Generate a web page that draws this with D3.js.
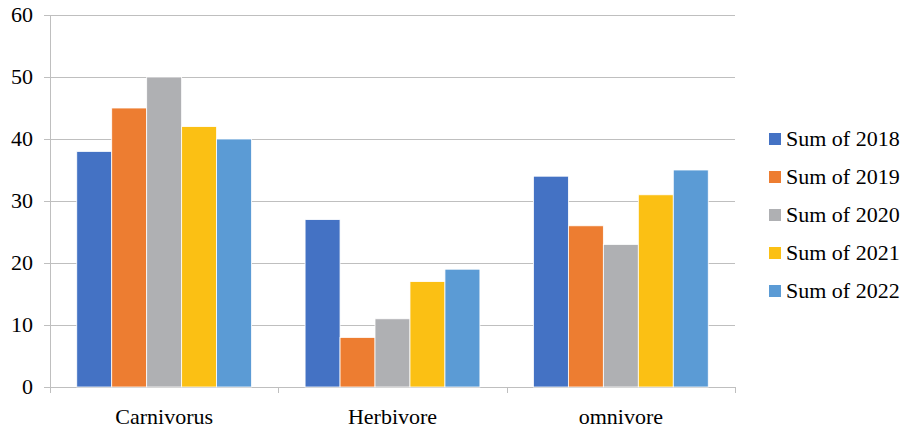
<!DOCTYPE html>
<html>
<head>
<meta charset="utf-8">
<script src="https://cdn.jsdelivr.net/npm/d3@7"></script>
<style>
  html, body { margin: 0; padding: 0; background: #fff; }
  svg { display: block; font-family: "Liberation Serif", "Times New Roman", serif; }
</style>
</head>
<body>
<svg id="chart" width="902" height="429"></svg>
<script>
// Diet categories and yearly sums
const categories = ["Carnivorus", "Herbivore", "omnivore"];
const seriesNames = ["Sum of 2018", "Sum of 2019", "Sum of 2020", "Sum of 2021", "Sum of 2022"];
const sum2018 = [38, 27, 34];
const sum2019 = [45, 8, 26];
const sum2020 = [50, 11, 23];
const sum2021 = [42, 17, 31];
const sum2022 = [40, 19, 35];
const yTicks = [0, 10, 20, 30, 40, 50, 60];
const colors = ["#4472C4", "#ED7D31", "#AFB0B3", "#FBC014", "#5B9BD5"];

const seriesValues = [sum2018, sum2019, sum2020, sum2021, sum2022];

const svg = d3.select("#chart");
const plot = { left: 50, right: 735, top: 15, bottom: 387 };

const x0 = d3.scaleBand().domain(categories).range([plot.left, plot.right]).paddingInner(0).paddingOuter(0);
const x1 = d3.scaleBand().domain(seriesNames).range([0, x0.bandwidth()]).paddingOuter(0.765).paddingInner(0);
const y = d3.scaleLinear().domain([0, 60]).range([plot.bottom, plot.top]);

// Horizontal gridlines with short outer ticks
svg.append("g")
  .selectAll("line")
  .data(yTicks)
  .join("line")
  .attr("x1", plot.left - 6)
  .attr("x2", plot.right)
  .attr("y1", d => y(d) + 0.5)
  .attr("y2", d => y(d) + 0.5)
  .attr("stroke", "#BFBFBF")
  .attr("stroke-width", 1);

// Y tick labels
svg.append("g")
  .selectAll("text")
  .data(yTicks)
  .join("text")
  .attr("x", 33)
  .attr("y", d => y(d))
  .attr("dy", "0.33em")
  .attr("text-anchor", "end")
  .attr("font-size", 22)
  .attr("fill", "#000")
  .text(d => d);

// Bars
const groups = svg.append("g")
  .selectAll("g")
  .data(categories)
  .join("g")
  .attr("transform", d => `translate(${x0(d)},0)`);

groups.selectAll("rect")
  .data((c, ci) => seriesNames.map((s, si) => ({ s, si, v: seriesValues[si][ci] })))
  .join("rect")
  .attr("x", d => x1(d.s))
  .attr("width", x1.bandwidth())
  .attr("y", d => y(d.v))
  .attr("height", d => y(0) - y(d.v))
  .attr("fill", d => colors[d.si])
  .attr("stroke", "#fff")
  .attr("stroke-width", 0.8);

// Y axis line
svg.append("line")
  .attr("x1", plot.left + 0.5).attr("x2", plot.left + 0.5)
  .attr("y1", plot.top).attr("y2", plot.bottom + 6)
  .attr("stroke", "#BFBFBF");

// Category dividers below the baseline
const dividers = [plot.left, ...categories.map(c => x0(c) + x0.bandwidth())];
svg.append("g")
  .selectAll("line")
  .data(dividers)
  .join("line")
  .attr("x1", d => Math.round(d) + 0.5)
  .attr("x2", d => Math.round(d) + 0.5)
  .attr("y1", plot.bottom)
  .attr("y2", plot.bottom + 6)
  .attr("stroke", "#BFBFBF");

// Category labels
svg.append("g")
  .selectAll("text")
  .data(categories)
  .join("text")
  .attr("x", d => x0(d) + x0.bandwidth() / 2)
  .attr("y", 417)
  .attr("dy", "0.33em")
  .attr("text-anchor", "middle")
  .attr("font-size", 22)
  .attr("fill", "#000")
  .text(d => d);

// Legend
const legend = svg.append("g")
  .selectAll("g")
  .data(seriesNames)
  .join("g")
  .attr("transform", (d, i) => `translate(769, ${139 + i * 38})`);

legend.append("rect")
  .attr("x", 0).attr("y", -6)
  .attr("width", 12).attr("height", 12)
  .attr("fill", (d, i) => colors[i]);

legend.append("text")
  .attr("x", 17)
  .attr("y", 0)
  .attr("dy", "0.33em")
  .attr("font-size", 22)
  .attr("fill", "#000")
  .text(d => d);
</script>
</body>
</html>
